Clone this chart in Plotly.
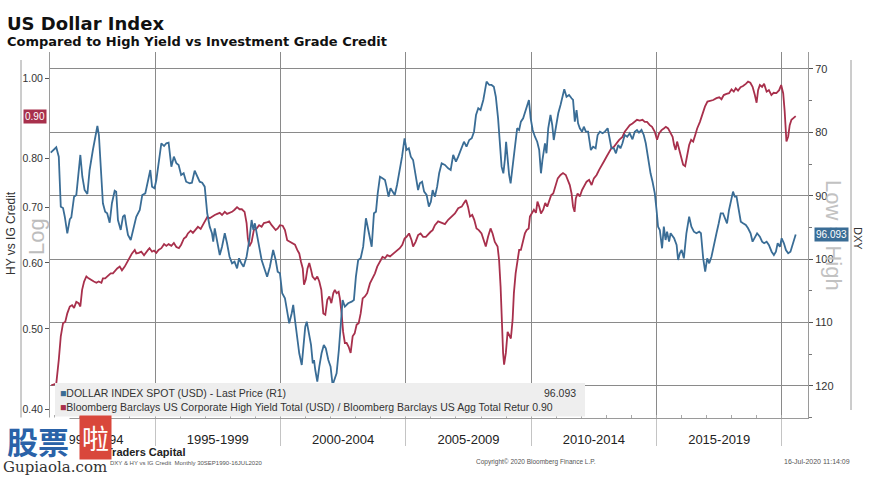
import numpy as np
import plotly.graph_objects as go

# ---------------- data ----------------
title_text = "US Dollar Index"
subtitle_text = "Compared to High Yield vs Investment Grade Credit"

dxy_name = "DOLLAR INDEX SPOT (USD) - Last Price (R1)"
ratio_name = ("Bloomberg Barclays US Corporate High Yield Total (USD) / "
              "Bloomberg Barclays US Agg Total Retur")
last_dxy = 96.093
last_ratio = 0.90

dxy_years = [
    1990.84, 1991.06, 1991.16, 1991.24, 1991.33, 1991.40, 1991.50, 1991.60, 1991.66, 1991.77, 1991.86, 1991.93,
    1992.02, 1992.10, 1992.19, 1992.30, 1992.39, 1992.52, 1992.59, 1992.70, 1992.76, 1992.83, 1992.92,
    1993.01, 1993.09, 1993.19, 1993.28, 1993.39, 1993.45, 1993.52, 1993.63, 1993.72, 1993.79, 1993.85, 1993.92,
    1994.03, 1994.12, 1994.25, 1994.39, 1994.49, 1994.61, 1994.72, 1994.81, 1994.88, 1994.98,
    1995.05, 1995.16, 1995.25, 1995.36, 1995.45, 1995.54, 1995.65, 1995.75, 1995.85, 1995.94,
    1996.04, 1996.14, 1996.24, 1996.38, 1996.47, 1996.58, 1996.68, 1996.78, 1996.88, 1996.98,
    1997.08, 1997.18, 1997.27, 1997.32, 1997.38, 1997.48, 1997.58, 1997.67, 1997.78, 1997.87, 1997.97,
    1998.07, 1998.17, 1998.27, 1998.35, 1998.44, 1998.53, 1998.65, 1998.76, 1998.85, 1998.92, 1998.98,
    1999.05, 1999.15, 1999.25, 1999.38, 1999.47, 1999.58, 1999.65, 1999.71, 1999.81, 1999.89, 1999.98,
    2000.07, 2000.18, 2000.27, 2000.35, 2000.45, 2000.51, 2000.58, 2000.67, 2000.75, 2000.85, 2000.91, 2000.99,
    2001.05, 2001.14, 2001.22, 2001.29, 2001.34, 2001.39, 2001.47, 2001.55, 2001.64, 2001.73, 2001.81, 2001.91,
    2002.00, 2002.08, 2002.15, 2002.24, 2002.33, 2002.41, 2002.48, 2002.57, 2002.70, 2002.84, 2002.93,
    2003.01, 2003.10, 2003.20, 2003.30, 2003.41, 2003.50, 2003.57, 2003.64, 2003.73, 2003.81, 2003.88, 2003.97,
    2004.07, 2004.17, 2004.23, 2004.31, 2004.39, 2004.47, 2004.56, 2004.65, 2004.76, 2004.85, 2004.95,
    2005.03, 2005.12, 2005.20, 2005.29, 2005.39, 2005.49, 2005.56, 2005.65, 2005.73, 2005.83, 2005.92,
    2006.00, 2006.07, 2006.16, 2006.25, 2006.33, 2006.43, 2006.56, 2006.69, 2006.79, 2006.89,
    2007.00, 2007.09, 2007.23, 2007.32, 2007.42, 2007.53, 2007.63, 2007.72, 2007.80, 2007.89, 2007.98,
    2008.09, 2008.15, 2008.22, 2008.33, 2008.42, 2008.51, 2008.59, 2008.68, 2008.75, 2008.82, 2008.89, 2008.95,
    2009.00, 2009.06, 2009.12, 2009.18, 2009.26, 2009.35, 2009.44, 2009.52, 2009.59, 2009.68, 2009.78, 2009.84, 2009.91, 2009.98,
    2010.06, 2010.15, 2010.24, 2010.32, 2010.39, 2010.45, 2010.55, 2010.61, 2010.68, 2010.77, 2010.84, 2010.90, 2010.98,
    2011.08, 2011.17, 2011.25, 2011.32, 2011.41, 2011.51, 2011.61, 2011.67, 2011.74, 2011.81, 2011.87, 2011.94,
    2012.03, 2012.10, 2012.18, 2012.27, 2012.38, 2012.47, 2012.57, 2012.65, 2012.74, 2012.85, 2012.94,
    2013.05, 2013.14, 2013.20, 2013.30, 2013.38, 2013.47, 2013.56, 2013.64, 2013.73, 2013.83, 2013.93,
    2014.04, 2014.13, 2014.22, 2014.30, 2014.40, 2014.49, 2014.57, 2014.66, 2014.76, 2014.84, 2014.93,
    2015.00, 2015.06, 2015.13, 2015.22, 2015.29, 2015.36, 2015.42, 2015.50, 2015.56, 2015.64, 2015.70, 2015.80, 2015.86, 2015.93,
    2016.00, 2016.09, 2016.19, 2016.30, 2016.39, 2016.49, 2016.59, 2016.70, 2016.77, 2016.86, 2016.94,
    2017.02, 2017.10, 2017.19, 2017.28, 2017.39, 2017.48, 2017.56, 2017.65, 2017.73, 2017.81, 2017.89, 2017.99,
    2018.05, 2018.12, 2018.19, 2018.28, 2018.36, 2018.45, 2018.56, 2018.65, 2018.75, 2018.83, 2018.92,
    2019.01, 2019.12, 2019.21, 2019.29, 2019.39, 2019.48, 2019.59, 2019.68, 2019.76, 2019.83, 2019.92, 2019.99,
    2020.08, 2020.16, 2020.25, 2020.34, 2020.44, 2020.55,
]
dxy_values = [
    83.20, 82.35, 83.83, 91.72, 91.92, 93.30, 95.91, 93.71, 93.39, 90.14, 89.87, 87.51,
    83.56, 86.99, 89.09, 89.72, 85.93, 82.78, 81.47, 78.99, 80.41, 84.87, 91.18,
    92.51, 92.76, 94.24, 91.18, 89.20, 89.35, 93.82, 95.39, 93.30, 93.03, 94.61, 96.18,
    96.97, 95.39, 93.30, 92.24, 89.87, 89.61, 87.51, 85.93, 88.56, 88.82,
    87.51, 84.35, 81.72, 82.15, 81.72, 81.62, 85.41, 83.83, 84.87, 85.14,
    86.72, 86.45, 87.78, 88.03, 87.93, 86.04, 86.99, 87.78, 87.93, 88.56,
    92.76, 94.87, 95.91, 97.24, 95.13, 97.24, 99.34, 98.03, 95.91, 97.49, 99.61,
    100.65, 100.39, 101.44, 99.86, 100.65, 101.18, 99.61, 96.97, 93.82, 95.39, 94.34,
    95.91, 98.28, 100.13, 101.70, 102.76, 101.18, 99.86, 98.55, 100.13, 101.97, 102.22,
    105.38, 106.17, 108.53, 110.11, 108.53, 107.22, 109.59, 112.22, 114.84, 116.69, 114.32, 110.65,
    109.86, 111.69, 113.53, 116.42, 115.90, 117.48, 119.32, 116.96, 114.84, 113.53, 114.05, 115.90,
    116.96, 119.84, 119.05, 118.00, 114.32, 110.65, 106.43, 107.49, 106.96, 106.70, 106.43,
    102.76, 100.13, 99.86, 98.03, 93.55, 95.39, 96.97, 98.03, 92.76, 92.51, 89.61, 86.99,
    87.24, 87.51, 88.56, 90.14, 88.82, 89.35, 89.87, 88.30, 85.93, 83.83, 80.93,
    82.78, 82.51, 83.83, 84.35, 86.45, 89.09, 88.03, 87.78, 89.35, 89.87, 91.72,
    90.93, 89.09, 90.14, 88.56, 86.45, 84.87, 85.14, 85.66, 85.93, 83.56,
    84.62, 83.83, 82.51, 81.47, 82.26, 81.20, 80.93, 79.89, 77.26, 76.20, 76.47,
    74.89, 73.58, 72.00, 72.52, 72.52, 72.79, 74.37, 77.78, 80.93, 85.41, 86.45, 84.35,
    81.47, 84.87, 86.72, 88.03, 85.41, 82.26, 79.35, 79.62, 78.31, 77.78, 76.47, 75.95, 74.89, 77.78,
    79.62, 80.68, 81.47, 82.78, 86.45, 84.35, 81.72, 83.30, 79.35, 77.26, 78.83, 81.20, 79.35,
    76.99, 75.68, 74.37, 73.20, 74.37, 74.10, 74.62, 74.89, 78.31, 76.47, 78.56, 79.35,
    79.89, 79.10, 79.89, 79.89, 82.78, 82.26, 82.51, 80.41, 79.89, 80.14, 79.89,
    79.35, 81.20, 82.51, 82.51, 83.30, 81.99, 82.51, 81.72, 80.41, 80.68, 80.14,
    81.09, 79.89, 79.62, 80.05, 79.62, 80.41, 81.72, 84.35, 86.45, 87.78, 89.61,
    92.24, 94.87, 95.39, 98.28, 94.87, 96.97, 95.66, 97.24, 95.91, 96.45, 96.70, 97.76, 100.13, 99.07,
    98.55, 99.86, 95.91, 93.30, 94.87, 95.66, 95.91, 95.66, 95.91, 99.86, 101.97,
    99.86, 100.65, 99.61, 97.76, 95.91, 94.34, 92.76, 92.76, 93.55, 94.34, 92.24, 90.66,
    89.35, 90.14, 90.14, 92.24, 94.08, 94.34, 94.61, 95.13, 95.91, 97.24, 96.45,
    95.91, 96.45, 97.24, 97.49, 97.24, 97.76, 98.82, 99.34, 98.82, 97.49, 98.03, 96.70,
    97.49, 98.55, 99.07, 98.82, 97.49, 96.09,
]

ratio_years = [
    1990.86, 1991.06, 1991.16, 1991.24, 1991.33, 1991.42, 1991.50, 1991.60, 1991.69, 1991.77, 1991.86, 1991.95,
    1992.02, 1992.09, 1992.17, 1992.26, 1992.35, 1992.46, 1992.56, 1992.66, 1992.75, 1992.86, 1992.92,
    1993.01, 1993.12, 1993.23, 1993.32, 1993.41, 1993.49, 1993.59, 1993.68, 1993.79, 1993.89, 1993.99,
    1994.08, 1994.19, 1994.25, 1994.35, 1994.45, 1994.56, 1994.65, 1994.72, 1994.78, 1994.88, 1994.96,
    1995.05, 1995.14, 1995.25, 1995.36, 1995.45, 1995.54, 1995.65, 1995.75, 1995.85, 1995.95,
    1996.04, 1996.15, 1996.24, 1996.31, 1996.42, 1996.51, 1996.60, 1996.71, 1996.82, 1996.91,
    1997.00, 1997.08, 1997.18, 1997.27, 1997.38, 1997.48, 1997.58, 1997.67, 1997.78, 1997.87, 1997.97,
    1998.07, 1998.17, 1998.27, 1998.37, 1998.46, 1998.57, 1998.65, 1998.70, 1998.76, 1998.85, 1998.94,
    1999.05, 1999.15, 1999.25, 1999.34, 1999.45, 1999.55, 1999.65, 1999.71, 1999.81, 1999.89, 1999.98,
    2000.09, 2000.18, 2000.27, 2000.38, 2000.49, 2000.58, 2000.67, 2000.75, 2000.82, 2000.89, 2000.94,
    2001.01, 2001.08, 2001.15, 2001.22, 2001.28, 2001.38, 2001.47, 2001.55, 2001.63, 2001.71, 2001.79, 2001.87, 2001.95,
    2002.03, 2002.11, 2002.17, 2002.24, 2002.32, 2002.37, 2002.44, 2002.50, 2002.57, 2002.64, 2002.72, 2002.80, 2002.88, 2002.96,
    2003.04, 2003.12, 2003.20, 2003.28, 2003.37, 2003.46, 2003.57, 2003.68, 2003.77, 2003.86, 2003.97,
    2004.07, 2004.17, 2004.26, 2004.37, 2004.47, 2004.56, 2004.66, 2004.76, 2004.86, 2004.95,
    2005.03, 2005.13, 2005.23, 2005.29, 2005.39, 2005.49, 2005.59, 2005.69, 2005.80, 2005.89, 2005.99,
    2006.07, 2006.16, 2006.29, 2006.43, 2006.56, 2006.69, 2006.83, 2006.96,
    2007.09, 2007.23, 2007.32, 2007.40, 2007.48, 2007.56, 2007.65, 2007.73, 2007.82, 2007.91,
    2008.02, 2008.11, 2008.19, 2008.28, 2008.38, 2008.46, 2008.55, 2008.66, 2008.72, 2008.78, 2008.83, 2008.88, 2008.92, 2008.99,
    2009.06, 2009.12, 2009.19, 2009.26, 2009.31, 2009.38, 2009.46, 2009.52, 2009.59, 2009.68, 2009.75, 2009.82, 2009.90, 2009.95,
    2010.02, 2010.11, 2010.19, 2010.25, 2010.32, 2010.39, 2010.48, 2010.56, 2010.64, 2010.72, 2010.80, 2010.88, 2010.97,
    2011.06, 2011.17, 2011.27, 2011.38, 2011.47, 2011.54, 2011.61, 2011.67, 2011.73, 2011.78, 2011.85, 2011.94,
    2012.03, 2012.11, 2012.21, 2012.31, 2012.41, 2012.50, 2012.61, 2012.71, 2012.81, 2012.90,
    2013.01, 2013.11, 2013.20, 2013.30, 2013.40, 2013.51, 2013.64, 2013.73, 2013.83, 2013.93,
    2014.04, 2014.13, 2014.22, 2014.33, 2014.44, 2014.53, 2014.62, 2014.73, 2014.82, 2014.93,
    2015.02, 2015.10, 2015.20, 2015.29, 2015.37, 2015.46, 2015.56, 2015.64, 2015.70, 2015.76, 2015.82, 2015.90,
    2016.00, 2016.06, 2016.14, 2016.22, 2016.30, 2016.38, 2016.46, 2016.54, 2016.62, 2016.73, 2016.82, 2016.93,
    2017.03, 2017.15, 2017.26, 2017.39, 2017.50, 2017.59, 2017.68, 2017.79, 2017.89, 2017.99,
    2018.08, 2018.16, 2018.25, 2018.35, 2018.45, 2018.56, 2018.65, 2018.74, 2018.83, 2018.92, 2018.99,
    2019.05, 2019.12, 2019.21, 2019.29, 2019.39, 2019.48, 2019.58, 2019.67, 2019.78, 2019.89, 2019.97,
    2020.05, 2020.11, 2020.18, 2020.25, 2020.31, 2020.38, 2020.47, 2020.55,
]
ratio_values = [
    0.428, 0.430, 0.459, 0.490, 0.508, 0.510, 0.522, 0.532, 0.534, 0.530, 0.539, 0.537,
    0.532, 0.557, 0.570, 0.578, 0.575, 0.573, 0.570, 0.568, 0.570, 0.568, 0.575,
    0.575, 0.579, 0.583, 0.583, 0.588, 0.591, 0.594, 0.588, 0.594, 0.602, 0.608,
    0.616, 0.622, 0.616, 0.617, 0.619, 0.613, 0.619, 0.622, 0.625, 0.619, 0.621,
    0.617, 0.622, 0.625, 0.632, 0.629, 0.632, 0.629, 0.634, 0.627, 0.625,
    0.631, 0.642, 0.645, 0.651, 0.656, 0.652, 0.657, 0.663, 0.659, 0.666,
    0.673, 0.681, 0.679, 0.682, 0.685, 0.687, 0.689, 0.685, 0.691, 0.687, 0.689,
    0.691, 0.695, 0.700, 0.696, 0.696, 0.691, 0.670, 0.642, 0.628, 0.636, 0.657,
    0.660, 0.666, 0.663, 0.670, 0.671, 0.673, 0.666, 0.663, 0.657, 0.660, 0.666,
    0.665, 0.657, 0.639, 0.636, 0.634, 0.631, 0.622, 0.616, 0.602, 0.591, 0.565,
    0.573, 0.591, 0.600, 0.589, 0.578, 0.573, 0.578, 0.570, 0.557, 0.522, 0.520, 0.542, 0.547,
    0.537, 0.552, 0.557, 0.552, 0.554, 0.544, 0.522, 0.496, 0.481, 0.481, 0.476, 0.468, 0.490, 0.494,
    0.506, 0.508, 0.522, 0.544, 0.547, 0.552, 0.567, 0.575, 0.583, 0.594, 0.602,
    0.610, 0.608, 0.613, 0.611, 0.615, 0.617, 0.621, 0.625, 0.631, 0.642,
    0.645, 0.651, 0.639, 0.628, 0.636, 0.648, 0.651, 0.645, 0.645, 0.650, 0.654,
    0.657, 0.666, 0.673, 0.670, 0.668, 0.676, 0.682, 0.688,
    0.698, 0.701, 0.708, 0.714, 0.701, 0.682, 0.685, 0.676, 0.660, 0.657,
    0.651, 0.639, 0.628, 0.645, 0.660, 0.651, 0.636, 0.628, 0.605, 0.562, 0.508, 0.468, 0.453, 0.468,
    0.496, 0.492, 0.487, 0.513, 0.552, 0.583, 0.605, 0.622, 0.622, 0.639, 0.651, 0.657, 0.660, 0.682,
    0.688, 0.695, 0.689, 0.711, 0.701, 0.688, 0.695, 0.708, 0.701, 0.714, 0.724, 0.727, 0.744,
    0.758, 0.765, 0.769, 0.765, 0.755, 0.744, 0.727, 0.701, 0.691, 0.717, 0.727, 0.721,
    0.734, 0.741, 0.751, 0.755, 0.744, 0.758, 0.765, 0.776, 0.784, 0.794,
    0.805, 0.816, 0.824, 0.827, 0.835, 0.843, 0.850, 0.862, 0.870, 0.878,
    0.882, 0.886, 0.891, 0.889, 0.891, 0.886, 0.886, 0.878, 0.874, 0.862,
    0.843, 0.858, 0.866, 0.870, 0.874, 0.870, 0.858, 0.850, 0.831, 0.820, 0.839, 0.820,
    0.801, 0.787, 0.784, 0.805, 0.831, 0.843, 0.839, 0.854, 0.870, 0.886, 0.903, 0.924,
    0.937, 0.939, 0.941, 0.946, 0.948, 0.943, 0.954, 0.957, 0.959, 0.969,
    0.963, 0.972, 0.966, 0.975, 0.978, 0.984, 0.990, 0.987, 0.976, 0.954, 0.934,
    0.967, 0.981, 0.976, 0.984, 0.963, 0.967, 0.954, 0.960, 0.959, 0.967, 0.981,
    0.959, 0.912, 0.839, 0.851, 0.878, 0.891, 0.895, 0.900,
]

period_centers = [1992.5, 1997.5, 2002.5, 2007.5, 2012.5, 2017.5]
period_labels = ["1990-1994", "1995-1999", "2000-2004", "2005-2009", "2010-2014", "2015-2019"]
period_bounds = [1995, 2000, 2005, 2010, 2015, 2020]
left_ticks = [0.40, 0.50, 0.60, 0.70, 0.80, 1.00]
left_labels = ["0.40", "0.50", "0.60", "0.70", "0.80", "1.00"]
right_ticks = [70, 80, 90, 100, 110, 120]

# ---------------- styling / layout ----------------
BLUE = "#3a6d96"
RED = "#a8304c"
GRID = "#8a8a8a"
AXIS = "#9a9a9a"
SANS = "Liberation Sans, Arial, sans-serif"
VERD = "DejaVu Sans, Verdana, sans-serif"

W, H = 877, 477
PL, PR, PT, PB = 50, 808, 52, 418  # plot area in pixels


def px(x):
    return (x - PL) / (PR - PL)


def py(y):
    return (PB - y) / (PB - PT)


fig = go.Figure()
fig.add_trace(go.Scatter(x=ratio_years, y=ratio_values, mode="lines", name=ratio_name,
                         line=dict(color=RED, width=1.8), yaxis="y"))
fig.add_trace(go.Scatter(x=dxy_years, y=dxy_values, mode="lines", name=dxy_name,
                         line=dict(color=BLUE, width=1.8), yaxis="y2"))

fig.update_layout(
    width=W, height=H,
    margin=dict(l=PL, r=W - PR, t=PT, b=H - PB, pad=0),
    paper_bgcolor="white", plot_bgcolor="white",
    showlegend=False,
    xaxis=dict(
        range=[1990.81, 2021.04],
        tickmode="array", tickvals=period_centers, ticktext=period_labels,
        ticks="outside", ticklen=9, tickcolor="rgba(0,0,0,0)",
        tickfont=dict(family=SANS, size=13, color="#222"),
        showgrid=False, zeroline=False,
        showline=True, linecolor=AXIS, linewidth=1,
        minor=dict(tickmode="array", tickvals=period_bounds, showgrid=True,
                   gridcolor=GRID, gridwidth=1, ticks="outside", ticklen=27,
                   tickcolor="#c4c4c4", tickwidth=1),
    ),
    xaxis2=dict(
        range=[1990.81, 2021.04], overlaying="x", anchor="y", side="bottom",
        tickmode="linear", tick0=1991, dtick=1, ticks="inside", ticklen=3,
        tickcolor="#aaaaaa", showticklabels=False, showgrid=False,
        zeroline=False, showline=False,
    ),
    yaxis=dict(
        type="log", range=[np.log10(0.391), np.log10(1.0745)],
        tickmode="array", tickvals=left_ticks, ticktext=left_labels,
        ticks="outside", ticklen=4, tickcolor="#555",
        tickfont=dict(family=SANS, size=10.5, color="#333"),
        showgrid=False, zeroline=False,
        showline=True, linecolor=AXIS, linewidth=1,
    ),
    yaxis2=dict(
        overlaying="y", side="right", anchor="x",
        range=[125.05, 67.32],
        tickmode="array", tickvals=right_ticks,
        ticks="outside", ticklen=4, tickcolor="#555",
        tickfont=dict(family=SANS, size=11, color="#333"),
        showgrid=True, gridcolor=GRID, gridwidth=1, zeroline=False,
        showline=True, linecolor=AXIS, linewidth=1,
        minor=dict(tickmode="linear", tick0=75, dtick=10, ticks="outside",
                   ticklen=3, tickcolor="#777", showgrid=False),
    ),
)

# invisible helper trace so the yearly tick axis is drawn
fig.add_trace(go.Scatter(x=[dxy_years[0]], y=[ratio_values[0]], xaxis="x2", yaxis="y",
                         mode="markers", marker=dict(opacity=0), hoverinfo="skip"))

shapes = [
    # side rules
    dict(type="line", xref="paper", yref="paper", x0=px(21), x1=px(21), y0=py(428), y1=py(60),
         line=dict(color="#9a9a9a", width=1)),
    dict(type="line", xref="paper", yref="paper", x0=px(851), x1=px(851), y0=py(410), y1=py(60),
         line=dict(color="#9a9a9a", width=1)),
    # legend panel
    dict(type="rect", xref="paper", yref="paper", x0=px(55), x1=px(585), y0=py(416.5), y1=py(383),
         fillcolor="#eeeeee", line=dict(width=0), layer="above"),
]

annotations = [
    dict(text="<b>" + title_text + "</b>", x=px(5), y=py(24), xanchor="left", yanchor="middle",
         font=dict(family=VERD, size=18, color="#111")),
    dict(text="<b>" + subtitle_text + "</b>", x=px(5), y=py(42), xanchor="left", yanchor="middle",
         font=dict(family=VERD, size=13, color="#111")),
    dict(text="HY vs IG Credit", x=px(11), y=py(233), textangle=-90, xanchor="center", yanchor="middle",
         font=dict(family=SANS, size=12, color="#333")),
    dict(text="Log", x=px(36), y=py(237), textangle=-90, xanchor="center", yanchor="middle",
         font=dict(family=SANS, size=22, color="#bdbdbd")),
    dict(text="Low = High", x=px(834), y=py(235), textangle=90, xanchor="center", yanchor="middle",
         font=dict(family=SANS, size=22, color="#c2c2c2")),
    dict(text="DXY", x=px(858), y=py(238), textangle=90, xanchor="center", yanchor="middle",
         font=dict(family=SANS, size=11, color="#333")),
    # last value flags
    dict(text="%.2f" % last_ratio, xref="paper", yref="y", x=px(35), y=np.log10(last_ratio),
         xanchor="center", yanchor="middle", bgcolor=RED, borderpad=1,
         font=dict(family=SANS, size=10, color="white")),
    dict(text="%.3f" % last_dxy, xref="paper", yref="y2", x=px(831), y=last_dxy,
         xanchor="center", yanchor="middle", bgcolor=BLUE, borderpad=1,
         font=dict(family=SANS, size=10, color="white")),
    # legend
    dict(text='<span style="color:%s">■</span>%s' % (BLUE, dxy_name), x=px(58), y=py(393),
         xanchor="left", yanchor="middle", font=dict(family=SANS, size=10.5, color="#333")),
    dict(text="%.3f" % last_dxy, x=px(578), y=py(393), xanchor="right", yanchor="middle",
         font=dict(family=SANS, size=10.5, color="#333")),
    dict(text='<span style="color:%s">■</span>%s %.2f' % (RED, ratio_name, last_ratio), x=px(58), y=py(407),
         xanchor="left", yanchor="middle", font=dict(family=SANS, size=10.5, color="#333")),
    # footer
    dict(text="<b>Traders Capital</b>", x=px(104), y=py(452), xanchor="left", yanchor="middle",
         font=dict(family=SANS, size=11, color="#222")),
    dict(text="DXY &amp; HY vs IG Credit  Monthly 30SEP1990-16JUL2020", x=px(108), y=py(463),
         xanchor="left", yanchor="middle", font=dict(family=SANS, size=6, color="#555")),
    dict(text="Copyright© 2020 Bloomberg Finance L.P.", x=px(474), y=py(462),
         xanchor="left", yanchor="middle", font=dict(family=SANS, size=6.5, color="#555")),
    dict(text="16-Jul-2020 11:14:09", x=px(782), y=py(462),
         xanchor="left", yanchor="middle", font=dict(family=SANS, size=7, color="#555")),
    # watermark
    dict(text="<b>股票</b>", x=px(38), y=py(440), xanchor="center", yanchor="middle",
         bgcolor="white", borderpad=0,
         font=dict(family="Noto Sans CJK SC", size=31, color="#2a62a8")),
    dict(text="啦", x=px(95), y=py(437), xanchor="center", yanchor="middle",
         bgcolor="#d9473b", borderpad=2,
         font=dict(family="Noto Sans CJK SC", size=27, color="white")),
    dict(text="Gupiaola.com", x=px(1), y=py(467), xanchor="left", yanchor="middle",
         font=dict(family="DejaVu Serif, serif", size=15, color="#333")),
]
for a in annotations:
    a.setdefault("xref", "paper")
    a.setdefault("yref", "paper")
    a.setdefault("showarrow", False)

fig.update_layout(shapes=shapes, annotations=annotations)
fig.write_html("out.html", config={"displayModeBar": False},
               post_script="document.body.style.margin='0px';document.body.style.padding='0px';")
